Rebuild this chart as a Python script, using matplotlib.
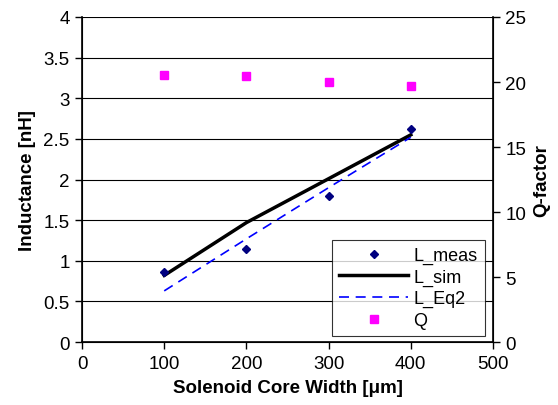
import matplotlib.pyplot as plt

plt.rcParams['font.family'] = ['Liberation Sans', 'DejaVu Sans']

# data
width_um = [100, 200, 300, 400]
L_meas = [0.86, 1.14, 1.80, 2.62]
L_sim = [0.82, 1.47, 2.01, 2.55]
L_eq2 = [0.63, 1.27, 1.90, 2.52]
Q = [20.56, 20.49, 19.97, 19.67]

fig = plt.figure(figsize=(5.58, 4.06), dpi=100)
ax = fig.add_axes([0.147, 0.155, 0.7365, 0.8007])
ax2 = ax.twinx()

h1, = ax.plot(width_um, L_meas, 'D', color='#000080', markersize=4, linestyle='none', label='L_meas', zorder=4)
h2, = ax.plot(width_um, L_sim, '-', color='black', linewidth=2.5, label='L_sim', zorder=3)
h3, = ax.plot(width_um, L_eq2, '--', color='#0000FF', linewidth=1.2, dashes=(6, 4), label='L_Eq2', zorder=3)
h4, = ax2.plot(width_um, Q, 's', color='#FF00FF', markersize=5.5, linestyle='none', label='Q')

ax.set_xlim(0, 500)
ax.set_ylim(0, 4)
ax2.set_ylim(0, 25)
ax.set_xticks(range(0, 501, 100))
ax.set_yticks([0, 0.5, 1, 1.5, 2, 2.5, 3, 3.5, 4])
ax.set_yticklabels(['0', '0.5', '1', '1.5', '2', '2.5', '3', '3.5', '4'])
ax2.set_yticks(range(0, 26, 5))

ax.grid(axis='y', color='black', linewidth=0.8, zorder=0)
for a in (ax, ax2):
    a.spines['top'].set_visible(False)
    a.tick_params(direction='out', length=5, width=1, labelsize=13.5, pad=4)
ax.spines['left'].set_linewidth(1.2)
ax.spines['bottom'].set_linewidth(1.2)
ax2.spines['right'].set_linewidth(1.2)

ax.set_xlabel('Solenoid Core Width [\u03bcm]', fontsize=13.5, fontweight='bold', labelpad=5)
ax.set_ylabel('Inductance [nH]', fontsize=13.5, fontweight='bold', labelpad=5)
ax2.set_ylabel('Q-factor', fontsize=13.5, fontweight='bold', labelpad=5)

leg = ax2.legend(handles=[h1, h2, h3, h4], loc='lower right', bbox_to_anchor=(0.98, 0.018),
                 borderaxespad=0, fontsize=13, frameon=True, fancybox=False, edgecolor='black',
                 handlelength=3.8, handletextpad=0.3, borderpad=0.4, labelspacing=0.25)
leg.get_frame().set_linewidth(0.8)

fig.savefig('out.png', dpi=100)
